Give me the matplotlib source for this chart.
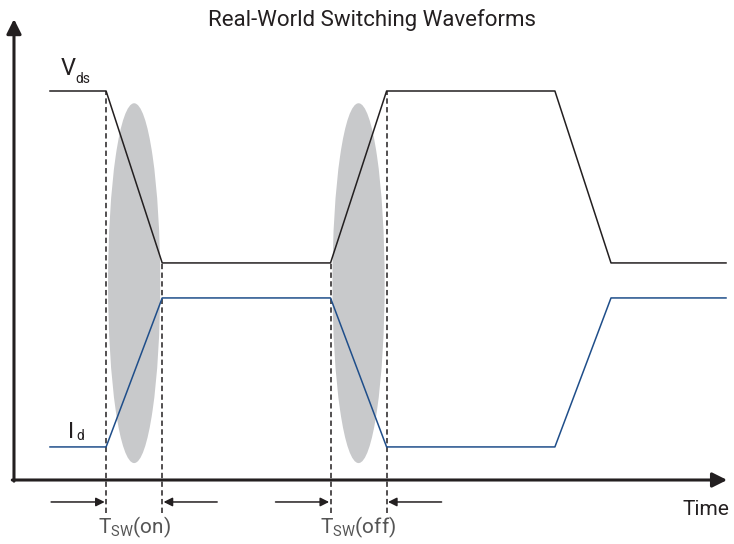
import matplotlib.pyplot as plt
from matplotlib.patches import Ellipse

plt.rcParams['font.family'] = ['Roboto', 'DejaVu Sans']
plt.rcParams['mathtext.fontset'] = 'custom'
plt.rcParams['mathtext.rm'] = 'Roboto'

# waveform breakpoints (time and levels in arbitrary units)
time = [0, 1, 2, 5, 6, 9, 10, 12.05]
vds = [10, 10, 5.58, 5.58, 10, 10, 5.58, 5.58]
i_d = [0.85, 0.85, 4.68, 4.68, 0.85, 0.85, 4.68, 4.68]
switch_on = (1, 2)
switch_off = (5, 6)
labels = ["$\\mathregular{T_{SW}}$(on)", "$\\mathregular{T_{SW}}$(off)"]

dark = '#231f20'
blue = '#1f4e8a'
grey = '#c8c9cb'

fig = plt.figure(figsize=(7.34, 5.44), dpi=100)
ax = fig.add_axes([0, 0, 1, 1])
ax.set_xlim(-50 / 56.1, 684 / 56.1)
ax.set_ylim(-64 / 38.9, 480 / 38.9)
ax.axis('off')

x0 = -0.642
# axes arrows
ax.annotate("", xy=(x0, 11.85), xytext=(x0, -0.03),
            arrowprops=dict(arrowstyle="-|>", lw=2.2, color=dark, mutation_scale=22, shrinkA=0, shrinkB=0))
ax.annotate("", xy=(12.07, 0), xytext=(x0 - 0.03, 0),
            arrowprops=dict(arrowstyle="-|>", lw=2.2, color=dark, mutation_scale=22, shrinkA=0, shrinkB=0))

# switching loss regions
for t0, t1 in (switch_on, switch_off):
    ax.add_patch(Ellipse(((t0 + t1) / 2, 5.06), 0.93, 9.25, color=grey, lw=0, zorder=1))

ax.plot(time, vds, color=dark, lw=1.1, zorder=3)
ax.plot(time, i_d, color=blue, lw=1.1, zorder=3)

# dashed markers and interval arrows
for (t0, t1), lab in zip((switch_on, switch_off), labels):
    for t in (t0, t1):
        i = time.index(t)
        ax.plot([t, t], [-0.85, max(vds[i], i_d[i])], color=dark, lw=1.1, ls=(0, (3.5, 2.2)), zorder=2)
    ax.annotate("", xy=(t0, -0.565), xytext=(t0 - 0.98, -0.565),
                arrowprops=dict(arrowstyle="-|>", lw=1.1, color=dark, mutation_scale=13, shrinkA=0, shrinkB=1))
    ax.annotate("", xy=(t1, -0.565), xytext=(t1 + 0.98, -0.565),
                arrowprops=dict(arrowstyle="-|>", lw=1.1, color=dark, mutation_scale=13, shrinkA=0, shrinkB=1))
    ax.text((t0 + t1) / 2, -1.22, lab, ha='center', va='center', fontsize=15, color='#555555')

ax.text(0.32, 10.41, "V", fontsize=17, color=dark, ha='center', va='baseline')
ax.text(0.446, 10.21, "ds", fontsize=10, color=dark, ha='left', va='baseline')
ax.text(0.383, 1.08, "I", fontsize=16, color=dark, ha='center', va='baseline')
ax.text(0.463, 1.03, "d", fontsize=10, color=dark, ha='left', va='baseline')
ax.text(11.69, -0.77, "Time", fontsize=15, color=dark, ha='center', va='center')
ax.text(5.74, 11.83, "Real-World Switching Waveforms", fontsize=16, color=dark, ha='center', va='center')

fig.savefig("out.png", dpi=100)
